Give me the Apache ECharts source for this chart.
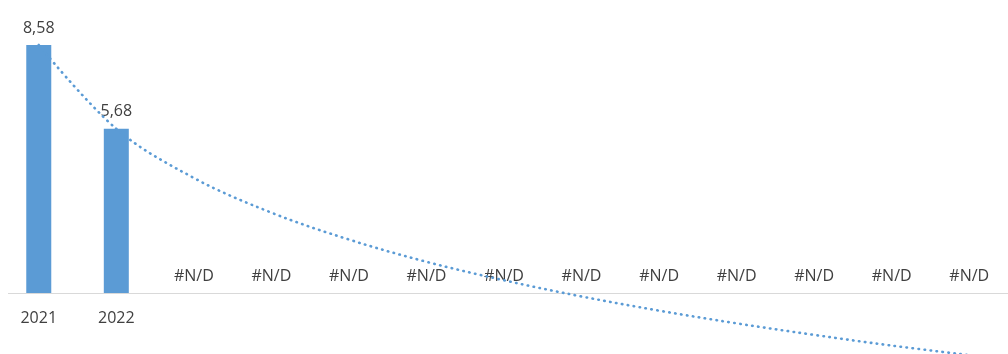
<!DOCTYPE html>
<html>
<head>
<meta charset="utf-8">
<script src="https://cdn.jsdelivr.net/npm/echarts@6/dist/echarts.min.js"></script>
<style>html,body{margin:0;padding:0;background:#fff;}#c{width:1008px;height:354px;}</style>
</head>
<body>
<div id="c"></div>
<script>
// Data
const categories = ['2021', '2022', '', '', '', '', '', '', '', '', '', '', ''];
const barValues = [8.58, 5.68, null, null, null, null, null, null, null, null, null, null, null];
// Logarithmic trendline values at each category
const trendValues = [8.58, 5.68, 3.98, 2.78, 1.85, 1.08, 0.44, -0.12, -0.61, -1.05, -1.45, -1.82, -2.15];
const missingLabel = '#N/D';

const chart = echarts.init(document.getElementById('c'), null, {renderer: 'canvas'});
const fontFamily = '"Open Sans", "Liberation Sans", sans-serif';
const textColor = '#404040';

const barData = barValues.map(v => v === null
  ? {value: 0, label: {formatter: missingLabel}}
  : {value: v});

chart.setOption({
  animation: false,
  grid: {left: -0.65, right: -14.45, top: 32.85, bottom: 61, containLabel: false},
  xAxis: {
    type: 'category',
    data: categories,
    boundaryGap: true,
    axisLine: {show: false},
    axisTick: {show: false},
    axisLabel: {color: textColor, fontSize: 16, fontFamily: fontFamily, margin: 17, interval: 0}
  },
  yAxis: {
    type: 'value', min: 0, max: 9, show: false,
    splitLine: {show: false}
  },
  series: [
    {
      type: 'bar',
      data: barData,
      barWidth: 25,
      itemStyle: {color: '#5B9BD5'},
      label: {
        show: true, position: 'top', distance: 9,
        color: textColor, fontSize: 16, fontFamily: fontFamily,
        formatter: p => String(p.value).replace('.', ',')
      },
      z: 2
    },
    {
      type: 'line',
      data: trendValues,
      smooth: 0.35,
      symbol: 'none',
      clip: false,
      lineStyle: {color: '#5B9BD5', width: 2.6, type: [0.5, 5.5], cap: 'round'},
      z: 3
    }
  ]
});

// Category axis line at value 0, starting a little in from the left edge as in the reference
const y0 = Math.round(chart.convertToPixel({yAxisIndex: 0}, 0)) + 0.5;
chart.setOption({
  graphic: [{
    type: 'line', z: 1, silent: true,
    shape: {x1: 8, y1: y0, x2: 1008, y2: y0},
    style: {stroke: '#D9D9D9', lineWidth: 1}
  }]
});
</script>
</body>
</html>
